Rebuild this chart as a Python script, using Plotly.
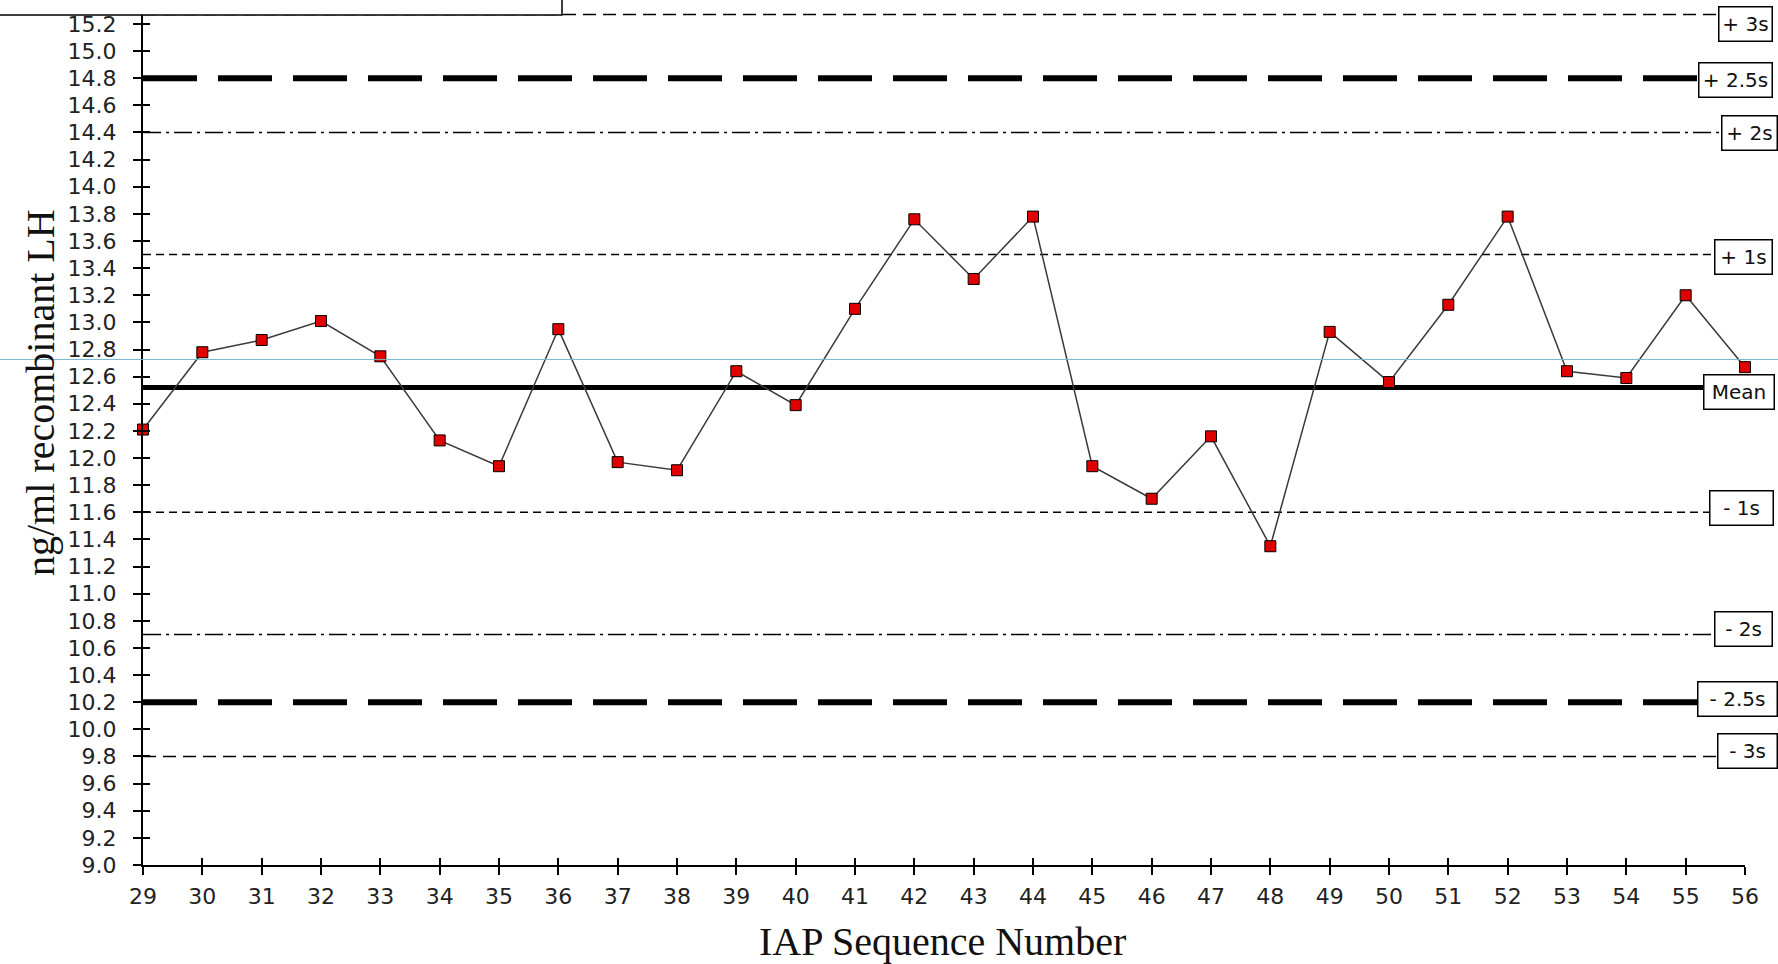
import plotly.graph_objects as go

# ---- data ----
seq_numbers = list(range(29, 57))
lh_values = [12.21, 12.78, 12.87, 13.01, 12.75, 12.13, 11.94, 12.95, 11.97, 11.91, 12.64, 12.39,
             13.10, 13.76, 13.32, 13.78, 11.94, 11.70, 12.16, 11.35, 12.93, 12.56, 13.13, 13.78,
             12.64, 12.59, 13.20, 12.67]
limit_labels = ["+ 3s", "+ 2.5s", "+ 2s", "+ 1s", "Mean", "- 1s", "- 2s", "- 2.5s", "- 3s"]
limit_values = [15.27, 14.8, 14.4, 13.5, 12.52, 11.6, 10.7, 10.2, 9.8]
cursor_value = 12.727
x_title = "IAP Sequence Number"
y_title = "ng/ml recombinant LH"

# ---- geometry / styles ----
W, H = 1778, 964
L, R, T, B = 143, 33, 0, 99
PW = W - L - R
PH = H - T - B
YMIN = 9.0
YMAX = 9.0 + PH / 135.65


def px_to_paper_x(px):
    return (px - L) / PW


line_styles = {
    "+ 3s": dict(width=1.5, dash="13px,7px"),
    "+ 2.5s": dict(width=6, dash="54px,21px"),
    "+ 2s": dict(width=1.5, dash="18px,5px,3px,5px"),
    "+ 1s": dict(width=1.5, dash="8px,5px"),
    "Mean": dict(width=5, dash="solid"),
    "- 1s": dict(width=1.5, dash="8px,5px"),
    "- 2s": dict(width=1.5, dash="18px,5px,3px,5px"),
    "- 2.5s": dict(width=6, dash="54px,21px"),
    "- 3s": dict(width=1.5, dash="13px,7px"),
}
box_geom = {  # left px, box width px, y shift
    "+ 3s": (1718, 55, -10),
    "+ 2.5s": (1698, 75, -2),
    "+ 2s": (1721, 57, -1),
    "+ 1s": (1714, 59, -2),
    "Mean": (1703, 72, -4),
    "- 1s": (1709, 65, 4),
    "- 2s": (1714, 59, 5),
    "- 2.5s": (1697, 81, 3),
    "- 3s": (1717, 61, 5),
}

fig = go.Figure()

fig.add_trace(go.Scatter(
    x=seq_numbers, y=lh_values, mode="lines+markers",
    line=dict(color="#3a3a3a", width=1.5),
    marker=dict(symbol="square", size=11, color="#e00000",
                line=dict(color="#000000", width=1)),
    cliponaxis=False, showlegend=False, hoverinfo="x+y",
))
# helper trace for crossing ticks
fig.add_trace(go.Scatter(x=[seq_numbers[0]], y=[YMIN], xaxis="x2", yaxis="y2",
                         mode="markers", marker=dict(opacity=0), showlegend=False,
                         hoverinfo="skip"))

shapes = []
for lab, val in zip(limit_labels, limit_values):
    st = line_styles[lab]
    shapes.append(dict(type="line", xref="x", yref="y", x0=seq_numbers[0], x1=seq_numbers[-1],
                       y0=val, y1=val, layer="below",
                       line=dict(color="#000000", width=st["width"], dash=st["dash"])))
# thin light-blue cursor line across the whole picture
shapes.append(dict(type="line", xref="paper", yref="y", x0=px_to_paper_x(0), x1=px_to_paper_x(W),
                   y0=cursor_value, y1=cursor_value, layer="above",
                   line=dict(color="#78b4cc", width=1)))
# clipped title box at the top left
shapes.append(dict(type="rect", xref="paper", yref="paper", x0=px_to_paper_x(-2), x1=px_to_paper_x(562),
                   y0=1 - 15 / PH, y1=1.1, layer="above", fillcolor="white",
                   line=dict(color="#000000", width=1.5)))

annotations = []
for lab, val in zip(limit_labels, limit_values):
    left, bw, ysh = box_geom[lab]
    annotations.append(dict(
        text=lab, xref="paper", yref="y", x=px_to_paper_x(left), y=val,
        xanchor="left", yanchor="middle", yshift=ysh, showarrow=False,
        width=bw - 9, height=27, align="center",
        bgcolor="white", bordercolor="#000000", borderwidth=1.5, borderpad=3,
        font=dict(family="DejaVu Sans", size=20, color="#111111"),
    ))
annotations.append(dict(text=y_title, xref="paper", yref="paper",
                        x=px_to_paper_x(40), y=1 - 393 / PH, textangle=-90,
                        xanchor="center", yanchor="middle", showarrow=False,
                        font=dict(family="Liberation Serif", size=40, color="#111111")))
annotations.append(dict(text=x_title, xref="paper", yref="paper",
                        x=px_to_paper_x(942), y=(PH - 941) / PH,
                        xanchor="center", yanchor="middle", showarrow=False,
                        font=dict(family="Liberation Serif", size=40, color="#111111")))

axis_common = dict(showgrid=False, zeroline=False)
fig.update_layout(
    width=W, height=H, margin=dict(l=L, r=R, t=T, b=B, pad=0),
    paper_bgcolor="white", plot_bgcolor="white", showlegend=False,
    xaxis=dict(range=[seq_numbers[0], seq_numbers[-1]], tickmode="linear", tick0=29, dtick=1,
               ticks="outside", ticklen=8, tickwidth=1.5, tickcolor="#000",
               showline=True, linecolor="#000", linewidth=2,
               ticklabelstandoff=3,
               tickfont=dict(family="DejaVu Sans", size=22, color="#222"), **axis_common),
    yaxis=dict(range=[YMIN, YMAX], tickmode="linear", tick0=9.0, dtick=0.2, tickformat=".1f",
               ticks="outside", ticklen=8, tickwidth=1.5, tickcolor="#000",
               showline=True, linecolor="#000", linewidth=2,
               ticklabelstandoff=12,
               tickfont=dict(family="DejaVu Sans", size=22, color="#222"), **axis_common),
    xaxis2=dict(overlaying="x", anchor="y2", range=[seq_numbers[0], seq_numbers[-1]],
                tickmode="linear", tick0=29, dtick=1, ticks="inside", ticklen=7, tickwidth=1.5,
                tickcolor="#000", showticklabels=False, showline=False, **axis_common),
    yaxis2=dict(overlaying="y", anchor="x2", range=[YMIN, YMAX], tickmode="linear", tick0=9.0,
                dtick=0.2, ticks="inside", ticklen=7, tickwidth=1.5, tickcolor="#000",
                showticklabels=False, showline=False, **axis_common),
    shapes=shapes, annotations=annotations,
)

fig.write_html("out.html", config={"displayModeBar": False},
               post_script="document.body.style.margin='0';document.body.style.overflow='hidden';")
